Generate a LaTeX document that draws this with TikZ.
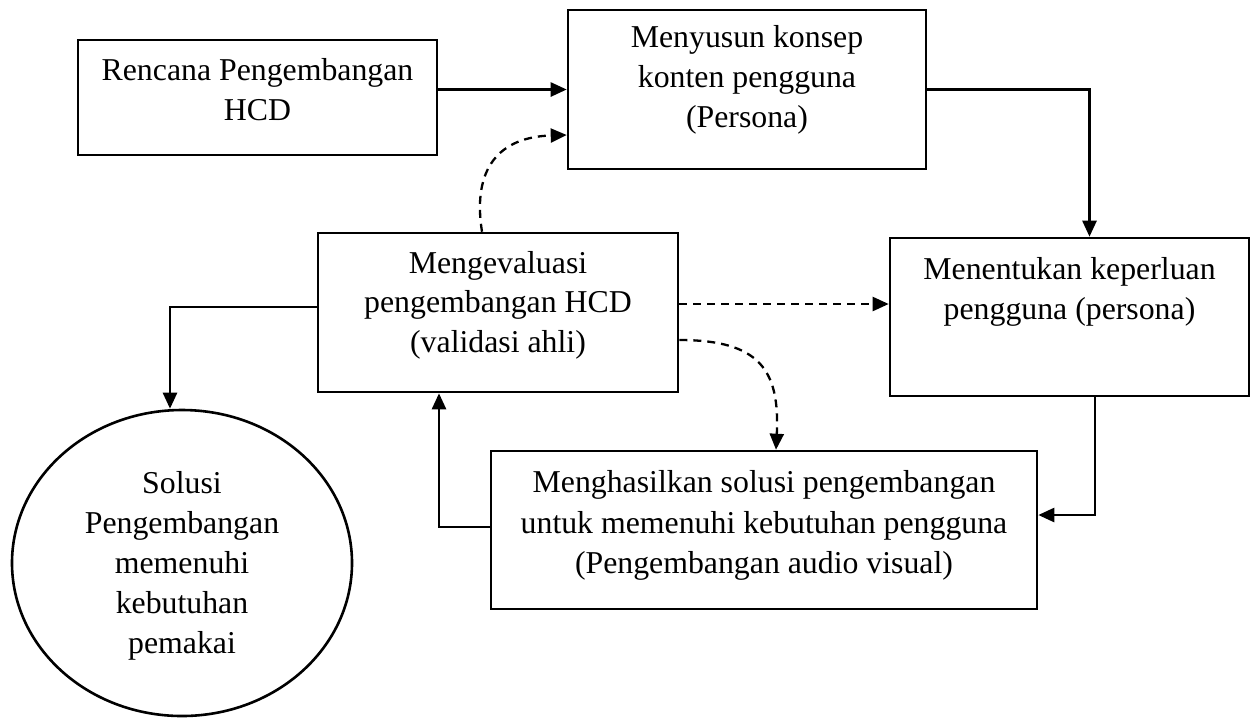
\documentclass[tikz,border=0pt]{standalone}
\usepackage{fontspec}
\setmainfont{Liberation Serif}
\usetikzlibrary{arrows.meta,shapes.geometric}
\begin{document}
\begin{tikzpicture}[x=0.5pt,y=-0.5pt, line width=1.3pt,
  box/.style={draw, rectangle, inner sep=0pt},
  oval/.style={draw, ellipse, inner sep=0pt},
  txt/.style={anchor=base, inner sep=0pt, font=\fontsize{15.9}{20}\selectfont},
  arr/.style={-{Triangle[length=8pt,width=7pt]}},
  dsh/.style={arr, line width=1.15pt, dash pattern=on 4pt off 3pt}]
\useasboundingbox (0,0) rectangle (1258,720);

% boxes
\node[box, minimum width=179.5pt, minimum height=57.5pt] (A) at (257.5,97.5) {};
\node[txt] (a1) at (257.5,80) {Rencana Pengembangan};
\node[txt] (a2) at (257.5,120) {HCD};

\node[box, minimum width=179pt, minimum height=79.5pt] (B) at (747,89.5) {};
\node[txt] (b1) at (747,47) {Menyusun konsep};
\node[txt] (b2) at (747,87) {konten pengguna};
\node[txt] (b3) at (747,127) {(Persona)};

\node[box, minimum width=180pt, minimum height=79.5pt] (C) at (498,312.5) {};
\node[txt] (c1) at (498,273) {Mengevaluasi};
\node[txt] (c2) at (498,312) {pengembangan HCD};
\node[txt] (c3) at (498,352) {(validasi ahli)};

\node[box, minimum width=179.5pt, minimum height=79pt] (D) at (1069.5,317) {};
\node[txt] (d1) at (1069.5,279) {Menentukan keperluan};
\node[txt] (d2) at (1069.5,319) {pengguna (persona)};

\node[box, minimum width=273pt, minimum height=79pt] (E) at (764,530) {};
\node[txt] (e1) at (764,492) {Menghasilkan solusi pengembangan};
\node[txt] (e2) at (764,533) {untuk memenuhi kebutuhan pengguna};
\node[txt] (e3) at (764,573) {(Pengembangan audio visual)};

\node[oval, minimum width=170pt, minimum height=153pt] (F) at (182,563) {};
\node[txt] (f1) at (182,493) {Solusi};
\node[txt] (f2) at (182,533) {Pengembangan};
\node[txt] (f3) at (182,573) {memenuhi};
\node[txt] (f4) at (182,613) {kebutuhan};
\node[txt] (f5) at (182,653) {pemakai};

% helper coordinates
\coordinate (cd) at ([yshift=4.25pt]C.east);
\coordinate (ce) at ([yshift=-13.75pt]C.east);
\coordinate (cb) at ([xshift=-8pt]C.north);
\coordinate (bin) at ([yshift=-22.75pt]B.west);
\coordinate (ein) at ([xshift=6pt]E.north);
\coordinate (dn) at ([xshift=10pt]D.north);
\coordinate (ds) at ([xshift=12.75pt]D.south);
\coordinate (eer) at ([yshift=7.5pt]E.east);
\coordinate (ew) at ([yshift=1.5pt]E.west);
\coordinate (cs) at ([xshift=-29.5pt]C.south);
\coordinate (cw) at ([yshift=2.75pt]C.west);
\coordinate (fn) at ([xshift=-6pt]F.north);

% solid connectors
\draw[arr] (A.east |- B.west) -- (B.west);
\draw[arr] (B.east) -| (dn);
\draw[arr] (ds) |- (eer);
\draw[arr] (ew) -| (cs);
\draw[arr] (cw) -| (fn);

% dashed connectors
\draw[dsh] (cd) -- (cd -| D.west);
\draw[dsh] (ce) .. controls +(80,0) and +(4,-80) .. (ein);
\draw[dsh] (cb) .. controls +(-10,-63) and +(-68,2) .. (bin);
\end{tikzpicture}
\end{document}
